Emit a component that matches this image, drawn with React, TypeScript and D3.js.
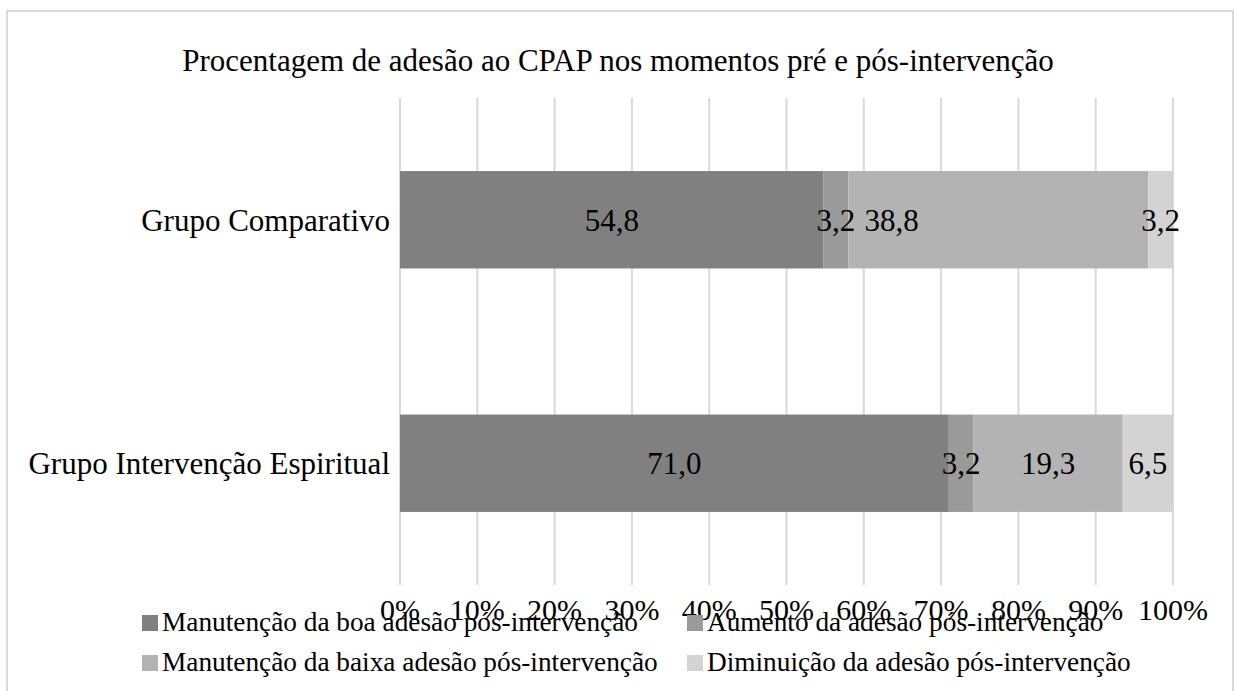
import React, { useRef, useEffect } from "react";
import * as d3 from "d3";

const title = "Procentagem de adesão ao CPAP nos momentos pré e pós-intervenção";
const categories = ["Grupo Comparativo", "Grupo Intervenção Espiritual"];
const seriesNames = [
  "Manutenção da boa adesão pós-intervenção",
  "Aumento da adesão pós-intervenção",
  "Manutenção da baixa adesão pós-intervenção",
  "Diminuição da adesão pós-intervenção",
];
// values per series, one per category
const boaAdesao = [54.8, 71.0];
const aumento = [3.2, 3.2];
const baixaAdesao = [38.8, 19.3];
const diminuicao = [3.2, 6.5];
const tickValues = [0, 10, 20, 30, 40, 50, 60, 70, 80, 90, 100];

const colors = ["#808080", "#9a9a9a", "#b3b3b3", "#d3d3d3"];
const FONT = "Liberation Serif";

const W = 1235;
const H = 691;

const App = () => {
  const ref = useRef<SVGSVGElement | null>(null);

  useEffect(() => {
    if (!ref.current) return;
    const svg = d3.select(ref.current);
    svg.selectAll("*").remove();

    const margins = { left: 400, right: 62, top: 98, bottom: 106 };
    const x = d3.scaleLinear().domain([0, 100]).range([margins.left, W - margins.right]);
    const y = d3
      .scaleBand()
      .domain(categories)
      .range([margins.top, H - margins.bottom])
      .paddingInner(0.6)
      .paddingOuter(0.3);

    // outer frame
    svg
      .append("rect")
      .attr("x", 7)
      .attr("y", 11)
      .attr("width", 1226)
      .attr("height", 720)
      .attr("fill", "#fff")
      .attr("stroke", "#d9d9d9")
      .attr("stroke-width", 2);

    svg
      .append("text")
      .attr("x", 618)
      .attr("y", 71)
      .attr("text-anchor", "middle")
      .attr("font-size", 31)
      .style("font-family", FONT)
      .attr("fill", "#000")
      .text(title);

    // vertical gridlines
    svg
      .append("g")
      .selectAll("line")
      .data(tickValues)
      .enter()
      .append("line")
      .attr("x1", (d) => x(d))
      .attr("x2", (d) => x(d))
      .attr("y1", margins.top)
      .attr("y2", H - margins.bottom)
      .attr("stroke", "#d9d9d9")
      .attr("stroke-width", 2);

    // stack the series
    const series = [boaAdesao, aumento, baixaAdesao, diminuicao];
    const rows = categories.map((c, i) => {
      const r: any = { cat: c };
      seriesNames.forEach((s, j) => (r[s] = series[j][i]));
      return r;
    });
    const stacked = d3.stack().keys(seriesNames)(rows);

    const layers = svg
      .append("g")
      .selectAll("g")
      .data(stacked)
      .enter()
      .append("g")
      .attr("fill", (d, i) => colors[i]);

    layers
      .selectAll("rect")
      .data((d) => d)
      .enter()
      .append("rect")
      .attr("x", (d) => x(d[0]))
      .attr("width", (d) => x(d[1]) - x(d[0]))
      .attr("y", (d: any) => y(d.data.cat)!)
      .attr("height", y.bandwidth());

    // data labels; Excel had one label dragged to the left
    const labelNudge: { [k: string]: number } = { "Grupo Comparativo|2": -13.8 };
    stacked.forEach((layer, j) => {
      svg
        .append("g")
        .selectAll("text")
        .data(layer)
        .enter()
        .append("text")
        .attr("x", (d: any) => x((d[0] + d[1]) / 2 + (labelNudge[d.data.cat + "|" + j] || 0)))
        .attr("y", (d: any) => y(d.data.cat)! + y.bandwidth() / 2 + 11)
        .attr("text-anchor", "middle")
        .attr("font-size", 31)
        .style("font-family", FONT)
        .attr("fill", "#000")
        .text((d: any) => d3.format(".1f")(d[1] - d[0]).replace(".", ","));
    });

    // category labels
    svg
      .append("g")
      .selectAll("text")
      .data(categories)
      .enter()
      .append("text")
      .attr("x", 390)
      .attr("y", (d) => y(d)! + y.bandwidth() / 2 + 11)
      .attr("text-anchor", "end")
      .attr("font-size", 31)
      .style("font-family", FONT)
      .attr("fill", "#000")
      .text((d) => d);

    // x tick labels
    svg
      .append("g")
      .selectAll("text")
      .data(tickValues)
      .enter()
      .append("text")
      .attr("x", (d) => x(d))
      .attr("y", 620)
      .attr("text-anchor", "middle")
      .attr("font-size", 30)
      .style("font-family", FONT)
      .attr("fill", "#000")
      .text((d) => d + "%");

    // legend, 2 x 2
    const legendPos = [
      [142, 631],
      [687, 631],
      [142, 671],
      [687, 671],
    ];
    const lg = svg
      .append("g")
      .selectAll("g")
      .data(seriesNames)
      .enter()
      .append("g")
      .attr("transform", (d, i) => "translate(" + legendPos[i][0] + "," + legendPos[i][1] + ")");
    lg.append("rect")
      .attr("x", 0)
      .attr("y", -16)
      .attr("width", 16)
      .attr("height", 16)
      .attr("fill", (d, i) => colors[i]);
    lg.append("text")
      .attr("x", 20)
      .attr("y", 0)
      .attr("font-size", 27.3)
      .style("font-family", FONT)
      .attr("fill", "#000")
      .text((d) => d);
  }, []);

  return (
    <svg
      ref={ref}
      width={W}
      height={H}
      style={{ position: "absolute", left: 0, top: 0, background: "#fff" }}
    />
  );
};

export default App;
